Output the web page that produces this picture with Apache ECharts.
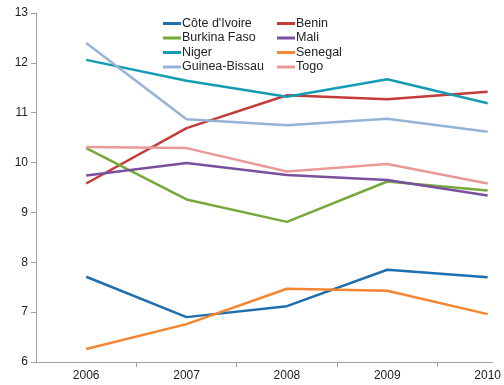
<!DOCTYPE html>
<html>
<head>
<meta charset="utf-8">
<script src="https://cdn.jsdelivr.net/npm/echarts@6/dist/echarts.min.js"></script>
<style>
  html, body { margin: 0; padding: 0; background: #fff; }
  #chart { width: 504px; height: 385px; }
</style>
</head>
<body>
<div id="chart"></div>
<script>
// years on the x axis
var years = [2006, 2007, 2008, 2009, 2010];
var yTicks = [6, 7, 8, 9, 10, 11, 12, 13];

// values
var coteDIvoire = [7.71, 6.90, 7.12, 7.85, 7.70];
var benin = [9.58, 10.69, 11.35, 11.27, 11.42];
var burkinaFaso = [10.29, 9.26, 8.81, 9.62, 9.44];
var mali = [9.74, 9.99, 9.75, 9.65, 9.34];
var niger = [12.06, 11.64, 11.32, 11.67, 11.19];
var senegal = [6.26, 6.76, 7.47, 7.43, 6.96];
var guineaBissau = [12.40, 10.87, 10.75, 10.88, 10.62];
var togo = [10.31, 10.29, 9.82, 9.97, 9.58];

var seriesDefs = [
  { name: "Côte d'Ivoire", data: coteDIvoire, color: "#1f6ead" },
  { name: "Benin", data: benin, color: "#c43c39" },
  { name: "Burkina Faso", data: burkinaFaso, color: "#77a83a" },
  { name: "Mali", data: mali, color: "#7a4f9c" },
  { name: "Niger", data: niger, color: "#139cb3" },
  { name: "Senegal", data: senegal, color: "#f58631" },
  { name: "Guinea-Bissau", data: guineaBissau, color: "#95b3d7" },
  { name: "Togo", data: togo, color: "#e99a98" }
];

function pairs(vals) {
  var out = [];
  for (var i = 0; i < years.length; i++) out.push([years[i], vals[i]]);
  return out;
}

var tickBetween = [];
for (var i = 0; i < years.length - 1; i++) tickBetween.push(years[i] + 0.5);

var legendBase = {
  orient: "vertical",
  top: 17,
  padding: 0,
  itemWidth: 18,
  itemHeight: 3,
  itemGap: 1.5,
  icon: "rect",
  textStyle: { fontFamily: "Liberation Sans", fontSize: 12.5, color: "#222", padding: [0, 0, 0, -4] }
};

var myChart = echarts.init(document.getElementById("chart"));
myChart.setOption({
  animation: false,
  grid: { left: 36, right: 7, top: 13, bottom: 23 },
  legend: [
    Object.assign({}, legendBase, {
      left: 163,
      data: ["Côte d'Ivoire", "Burkina Faso", "Niger", "Guinea-Bissau"]
    }),
    Object.assign({}, legendBase, {
      left: 277,
      data: ["Benin", "Mali", "Senegal", "Togo"]
    })
  ],
  xAxis: {
    type: "value",
    min: 2005.5,
    max: 2010.05,
    splitLine: { show: false },
    axisLine: { lineStyle: { color: "#a0a0a0", width: 1 } },
    axisTick: { customValues: tickBetween, length: 5, lineStyle: { color: "#a0a0a0" } },
    axisLabel: {
      customValues: years,
      margin: 8,
      color: "#222",
      fontFamily: "Liberation Sans",
      fontSize: 12,
      formatter: function (v) { return String(v); }
    }
  },
  yAxis: {
    type: "value",
    min: yTicks[0],
    max: yTicks[yTicks.length - 1],
    interval: 1,
    splitLine: { show: false },
    axisLine: { show: true, lineStyle: { color: "#a0a0a0", width: 1 } },
    axisTick: { show: true, length: 5, lineStyle: { color: "#a0a0a0" } },
    axisLabel: {
      margin: 8,
      color: "#222",
      fontFamily: "Liberation Sans",
      fontSize: 12
    }
  },
  series: seriesDefs.map(function (s) {
    return {
      name: s.name,
      type: "line",
      data: pairs(s.data),
      showSymbol: false,
      symbol: "none",
      color: s.color,
      lineStyle: { width: 2.5, color: s.color }
    };
  })
});
</script>
</body>
</html>
